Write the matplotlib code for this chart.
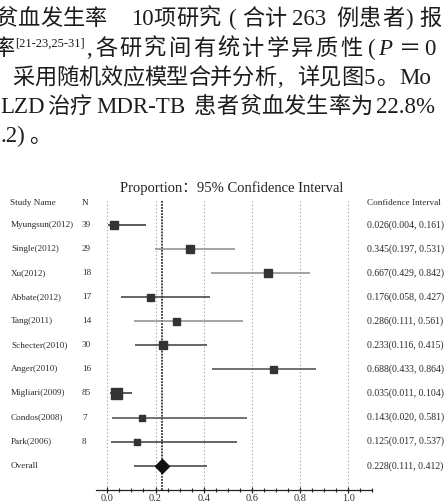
import matplotlib
matplotlib.use("Agg")
import matplotlib.pyplot as plt
import matplotlib.transforms as mtransforms
import numpy as np

# ---------------- data ----------------
studies = ["Myungsun(2012)", "Single(2012)", "Xu(2012)", "Abbate(2012)", "Tang(2011)",
           "Schecter(2010)", "Anger(2010)", "Migliari(2009)", "Condos(2008)", "Park(2006)"]
n_patients = [39, 29, 18, 17, 14, 30, 16, 85, 7, 8]
proportion = [0.026, 0.345, 0.667, 0.176, 0.286, 0.233, 0.688, 0.035, 0.143, 0.125]
ci_low = [0.004, 0.197, 0.429, 0.058, 0.111, 0.116, 0.433, 0.011, 0.020, 0.017]
ci_high = [0.161, 0.531, 0.842, 0.427, 0.561, 0.415, 0.864, 0.104, 0.581, 0.537]
overall_label = "Overall"
overall_est = 0.228
overall_low = 0.111
overall_high = 0.412
x_ticks = [0.0, 0.2, 0.4, 0.6, 0.8, 1.0]
title = "Proportion：95% Confidence Interval"

# ---------------- style ----------------
box_px = [8.3, 7.7, 7.3, 7.0, 7.0, 7.7, 7.0, 11.0, 5.5, 5.8]   # square side (px)
line_col = ["#2e2e2e", "#8c8c8c", "#8c8c8c", "#3a3a3a", "#8c8c8c",
            "#3a3a3a", "#4a4a4a", "#2e2e2e", "#4a4a4a", "#3a3a3a"]

W, H = 446, 503
fig = plt.figure(figsize=(W / 100, H / 100), dpi=100)
fig.patch.set_facecolor("white")

def fx(x):
    return x / W

def fy(y):
    return 1 - y / H

SERIF = "Liberation Serif"
CJK = "Noto Sans CJK SC"
MIX = [SERIF, CJK]
TXT = "#1c1c1c"

# ---------------- body text above the chart ----------------
def seg(x, base, text, kind, pitch=22.5, size=16.0):
    if kind == "c":
        for i, ch in enumerate(text):
            fig.text(fx(x + i * pitch), fy(base), ch, family=[CJK], fontsize=size,
                     fontweight="light", color=TXT, va="baseline", ha="left")
    elif kind == "l":
        fig.text(fx(x), fy(base), text, family=MIX, fontsize=16.5, color=TXT,
                 va="baseline", ha="left")
    elif kind == "i":
        fig.text(fx(x), fy(base), text, family=[SERIF], style="italic", fontsize=16.5,
                 color=TXT, va="baseline", ha="left")
    elif kind == "s":
        fig.text(fx(x), fy(base), text, family=[SERIF], fontsize=9, color=TXT,
                 va="baseline", ha="left")

lines = [
    (25, [(-5, "贫血发生率", "c", 22.5), (131, "10", "l"), (153, "项研究", "c", 23),
          (229, "(", "l"), (242, "合计", "c", 23), (292, "263", "l"),
          (336, "例患者", "c", 23), (405, ")", "l"), (419, "报", "c")]),
    (55, [(-7, "率", "c"), (86, ",", "l"), (95, "各研究间有统计学异质性", "c", 24.5),
          (368, "(", "l"), (378, "P", "i"), (399, "＝", "c"), (424, "0", "l")]),
    (84, [(12, "采用随机效应模型合并分析", "c", 22), (277, ",", "l"), (297, "详见图", "c", 22),
          (364, "5", "l"), (376, "。", "c"), (399, "Mo", "l")]),
    (113, [(0, "LZD", "l"), (47, "治疗", "c", 22), (96, "MDR-TB", "l"),
           (194, "患者贫血发生率为", "c", 22.4), (376, "22.8%", "l")]),
    (142, [(1, ".2)", "l"), (29, "。", "c")]),
]
for base, segs in lines:
    for s in segs:
        if len(s) == 4:
            seg(s[0], base, s[1], s[2], pitch=s[3])
        else:
            seg(s[0], base, s[1], s[2])
seg(15, 47, "[21-23,25-31]", "s")

# ---------------- forest plot ----------------
x0_px, x1_px = 107.3, 348.3           # pixel of 0.0 and 1.0
scale = x1_px - x0_px
xmin, xmax = -0.045, 1.10
row0_px, row_step = 225.0, 24.07
top_px, bot_px = 200.0, 490.0

left_px = x0_px + xmin * scale
right_px = x0_px + xmax * scale
ax = fig.add_axes([fx(left_px), fy(bot_px), (right_px - left_px) / W, (bot_px - top_px) / H])
ax.set_facecolor("none")
ax.set_xlim(xmin, xmax)
ax.set_ylim((bot_px - row0_px) / row_step, (top_px - row0_px) / row_step)

for v in x_ticks:
    ax.axvline(v, color="#9c9c9c", lw=0.8, ls=(0, (1, 2.2)), zorder=1)
ax.axvline(overall_est, color="#111111", lw=1.1, ls=(0, (1.2, 0.8)), zorder=2)

rows = np.arange(len(studies))
for i in rows:
    ax.hlines(i, ci_low[i], ci_high[i], color=line_col[i], lw=1.1, zorder=3)
    ax.plot(proportion[i], i, marker="s", ms=box_px[i] * 0.72, color="#333333",
            mec="#333333", zorder=4)
orow = len(studies)
ax.hlines(orow, overall_low, overall_high, color="#3a3a3a", lw=1.1, zorder=3)
ax.plot(overall_est, orow, marker="D", ms=6.8, color="#111111", zorder=4)

for sp in ["top", "left", "right"]:
    ax.spines[sp].set_visible(False)
ax.spines["bottom"].set_color("#222222")
ax.spines["bottom"].set_linewidth(0.9)
ax.set_yticks([])
ax.set_xticks(x_ticks)
ax.set_xticklabels([f"{v:.1f}" for v in x_ticks], family=SERIF, fontsize=7.5, color="#333333")
minor = [round(v, 2) for v in np.arange(0.05, 1.101, 0.05) if round(v * 10, 6) % 2 != 0]
ax.set_xticks(minor, minor=True)
ax.tick_params(axis="x", which="major", direction="inout", length=5, width=0.9,
               color="#222222", pad=0.3)
ax.tick_params(axis="x", which="minor", direction="inout", length=3.0, width=0.8,
               color="#222222")

trans = mtransforms.blended_transform_factory(fig.transFigure, ax.transData)
lab_kw = dict(family=MIX, fontsize=6.6, color="#2a2a2a", va="center", ha="left",
              transform=trans, clip_on=False)
ci_kw = dict(lab_kw, fontsize=7.0)
hdr_row = (203.0 - row0_px) / row_step
ax.text(fx(10), hdr_row, "Study Name", **lab_kw)
ax.text(fx(82), hdr_row, "N", **lab_kw)
ax.text(fx(367), hdr_row, "Confidence Interval", **lab_kw)
for i in rows:
    ax.text(fx(11), i, studies[i], **lab_kw)
    ax.text(fx(82), i, str(n_patients[i]), **lab_kw)
    ax.text(fx(367), i, f"{proportion[i]:.3f}({ci_low[i]:.3f}, {ci_high[i]:.3f})", **ci_kw)
ax.text(fx(11), orow, overall_label, **lab_kw)
ax.text(fx(367), orow, f"{overall_est:.3f}({overall_low:.3f}, {overall_high:.3f})", **ci_kw)

fig.text(fx(232), fy(188), title, family=MIX, fontsize=10.5, color="#222222",
         ha="center", va="center")

fig.savefig("out.png", dpi=100)
